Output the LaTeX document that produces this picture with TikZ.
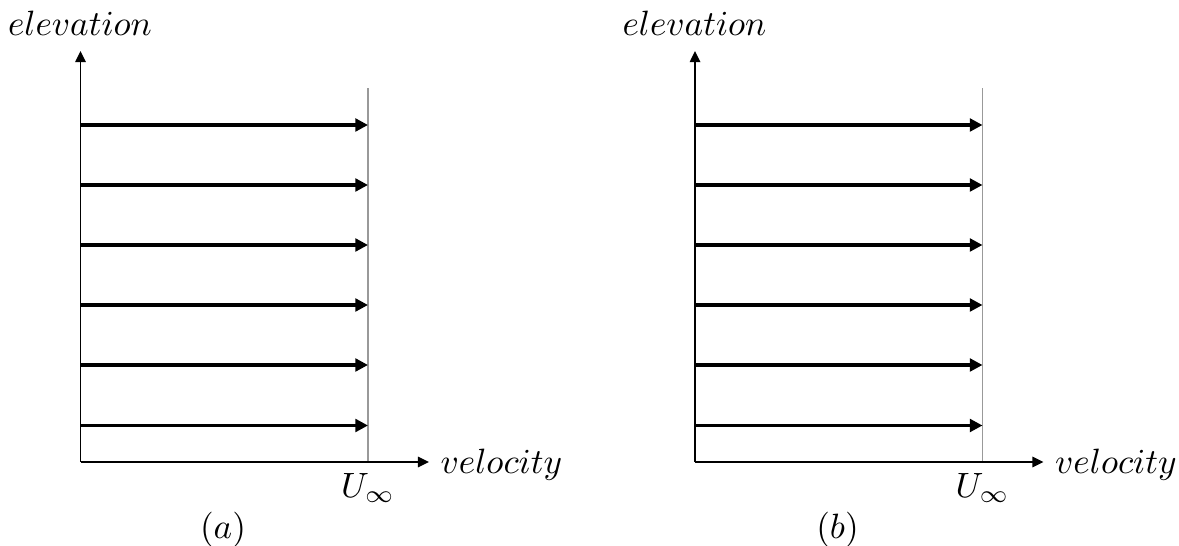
\documentclass[tikz,border=0pt]{standalone}
\usepackage{amsmath,amssymb}
\usepackage{xcolor}
\usetikzlibrary{arrows.meta,positioning}

\begin{document}
\begin{tikzpicture}[x=0.01cm, y=-0.01cm,
  axis/.style={line width=0.45pt, -{Triangle[length=3.2pt, width=3pt]}},
  flow/.style={line width=1.1pt, -{Triangle[length=3.6pt, width=3.6pt]}},
  limit/.style={draw=gray!80, line width=0.3pt},
  lbl/.style={inner sep=0pt, font=\normalsize}
]
\useasboundingbox (0,0) rectangle (1179,546);
\foreach \p/\dx in {a/0, b/614.5} {
  \begin{scope}[xshift=\dx*0.01cm]
    \coordinate (o-\p) at (80.5,462);
    \coordinate (ytop-\p) at (80.5,51);
    \coordinate (xend-\p) at (429,462);
    \coordinate (ulim-\p) at (368,462);
    \coordinate (utop-\p) at (368,88);
    \node[lbl, anchor=base] (elev-\p) at (80,36) {$elevation$};
    \node[lbl, anchor=base west] (vel-\p) at (440,473) {$velocity$};
    \node[lbl, anchor=base] (uinf-\p) at (368,497) {$U_\infty$};
    \node[lbl, anchor=base] (cap-\p) at (223,538) {$(\p)$};
    \draw[limit] (ulim-\p) -- (utop-\p);
    \draw[axis] (o-\p) -- (ytop-\p);
    \draw[axis] (o-\p) -- (xend-\p);
    \foreach \i/\y in {1/125, 2/185, 3/245, 4/305, 5/365, 6/425.5} {
      \coordinate (s\i-\p) at (80.5,\y);
      \coordinate (e\i-\p) at (368,\y);
      \draw[flow] (s\i-\p) -- (e\i-\p);
    }
  \end{scope}
}
\end{tikzpicture}
\end{document}
